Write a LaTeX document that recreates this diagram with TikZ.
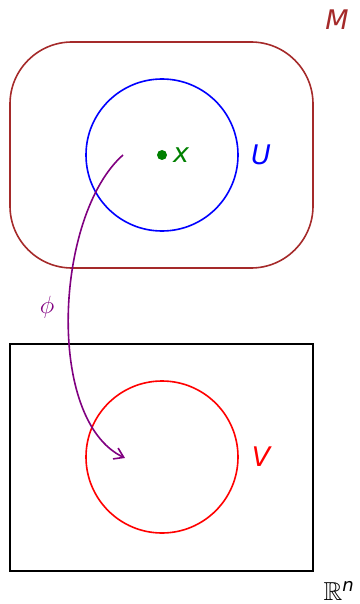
\documentclass[tikz,border=0pt]{standalone}
\usepackage{amssymb}
\usepackage{fontspec}
\newfontfamily\lblfont{DejaVu Sans}
\usetikzlibrary{arrows.meta}
\definecolor{mbrown}{RGB}{165,42,42}
\definecolor{ugreen}{RGB}{0,128,0}
\definecolor{phipurple}{RGB}{128,0,128}
\tikzset{
  lbl/.style={font=\fontsize{27}{30}\selectfont\lblfont\itshape, inner sep=0pt},
  shapeline/.style={line width=1.6pt},
}
\begin{document}
\begin{tikzpicture}[x=1pt,y=-1pt]
\useasboundingbox (0,0) rectangle (359,604);
% manifold M
\draw[shapeline, mbrown, rounded corners=62pt] (10,42) rectangle (313,268);
\node[lbl, text=mbrown] (M) at (337,20) {M};
% chart domain U
\node[shapeline, draw=blue, circle, minimum size=152pt, inner sep=0pt] (U) at (162,155) {};
\node[lbl, text=blue] (Ul) at (261,155) {U};
\fill[ugreen] (162,155) circle (5pt);
\coordinate (xp) at (162,155);
\node[lbl, text=ugreen] (xl) at (181,155) {x};
% R^n
\draw[shapeline, black] (10,344) rectangle (313,571);
\node[inner sep=0pt, font=\fontsize{26}{30}\selectfont] (Rn) at (339,591) {$\mathbb{R}^{\mbox{\fontsize{18}{20}\selectfont\lblfont\itshape n}}$};
% V
\node[shapeline, draw=red, circle, minimum size=152pt, inner sep=0pt] (V) at (162,457) {};
\node[lbl, text=red] (Vl) at (261,457) {V};
% phi
\coordinate (s) at (123,155);
\coordinate (e) at (125,458);
\draw[shapeline, phipurple, -{Straight Barb[length=9pt,width=12pt]}] (s) .. controls (55,215) and (45,420) .. (e);
\node[inner sep=0pt, text=phipurple, font=\fontsize{26}{30}\selectfont] (phi) at (47,307) {$\phi$};
\end{tikzpicture}
\end{document}
